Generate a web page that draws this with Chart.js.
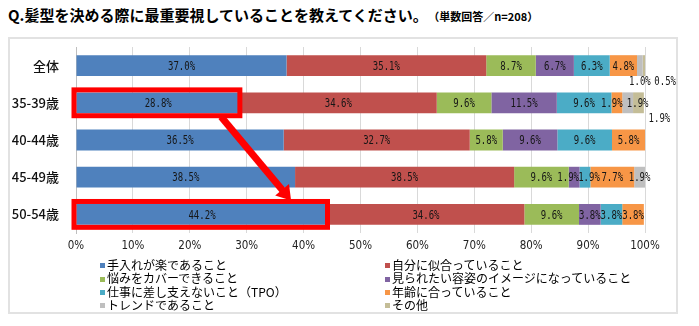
<!DOCTYPE html>
<html>
<head>
<meta charset="utf-8">
<script src="https://cdn.jsdelivr.net/npm/chart.js@4.4.0/dist/chart.umd.min.js"></script>
<style>
  body { margin:0; width:699px; height:326px; background:#fff; position:relative; overflow:hidden; font-family:"Noto Sans CJK JP", sans-serif; }
  #title { position:absolute; left:8px; top:4px; font-size:15px; font-weight:bold; white-space:nowrap; color:#000; }
  #title small { font-size:11px; margin-left:6px; }
  #frame { position:absolute; left:8px; top:37px; width:670px; height:277px; border:2px solid #e2e2e2; box-sizing:border-box; }
  #chart { position:absolute; left:0; top:0; }
  .item { position:absolute; font-size:12px; line-height:13px; white-space:nowrap; color:#000; }
  .item i { display:inline-block; width:5px; height:5px; margin-right:2px; vertical-align:middle; position:relative; top:-1px; }
</style>
</head>
<body>
<div id="title">Q.髪型を決める際に最重要視していることを教えてください。<small>（単数回答／n=208）</small></div>
<div id="frame"></div>
<canvas id="chart" width="699" height="326"></canvas>
<div id="legend"></div>
<script>
// rows
const categories = ['全体', '35-39歳', '40-44歳', '45-49歳', '50-54歳'];

// answers (%)
const seriesNames = [
  '手入れが楽であること',
  '自分に似合っていること',
  '悩みをカバーできること',
  '見られたい容姿のイメージになっていること',
  '仕事に差し支えないこと（TPO）',
  '年齢に合っていること',
  'トレンドであること',
  'その他'
];
const easyCare   = [37.0, 28.8, 36.5, 38.5, 44.2];
const suitsMe    = [35.1, 34.6, 32.7, 38.5, 34.6];
const coversFlaw = [8.7, 9.6, 5.8, 9.6, 9.6];
const imageWant  = [6.7, 11.5, 9.6, 1.9, 3.8];
const tpo        = [6.3, 9.6, 9.6, 1.9, 3.8];
const ageFit     = [4.8, 1.9, 5.8, 7.7, 3.8];
const trend      = [1.0, 1.9, 0, 1.9, 0];
const other      = [0.5, 1.9, 0, 0, 0];
const series = [easyCare, suitsMe, coversFlaw, imageWant, tpo, ageFit, trend, other];

const colors = ['#4F81BD', '#C0504D', '#9BBB59', '#8064A2', '#4BACC6', '#F79646', '#BFBFBF', '#C4BD97'];
const xTicks = [0, 10, 20, 30, 40, 50, 60, 70, 80, 90, 100];

// label nudges for thin segments: [row, series, dx, dy]
const labelShifts = [
  [0, 6, 0, 15.5], [0, 7, 21, 15.5], [1, 7, 21, 15.5],
  [1, 5, -5, 0], [1, 6, 10, 0],
  [3, 3, -6, 0], [3, 4, 4, 0]
];
const highlightRows = [1, 4];

const valueLabels = {
  id: 'valueLabels',
  afterDatasetsDraw(chart) {
    const ctx = chart.ctx;
    ctx.save();
    ctx.font = '12px "DejaVu Sans Mono"';
    ctx.fillStyle = '#161616';
    ctx.textAlign = 'center';
    ctx.textBaseline = 'middle';
    chart.data.datasets.forEach((ds, di) => {
      chart.getDatasetMeta(di).data.forEach((bar, ri) => {
        const v = ds.data[ri];
        if (!v) return;
        let x = (bar.base + bar.x) / 2, y = bar.y + 1;
        const s = labelShifts.find(l => l[0] === ri && l[1] === di);
        if (s) { x += s[2]; y += s[3]; }
        ctx.save();
        ctx.translate(x, y);
        ctx.scale(0.75, 1);
        ctx.fillText(v.toFixed(1) + '%', 0, 0);
        ctx.restore();
      });
    });
    ctx.restore();
  }
};

const highlight = {
  id: 'highlight',
  afterDraw(chart) {
    const ctx = chart.ctx;
    const meta = chart.getDatasetMeta(0);
    const xs = chart.scales.x;
    ctx.save();
    ctx.strokeStyle = '#ff0000';
    ctx.fillStyle = '#ff0000';
    ctx.lineWidth = 5;
    const boxes = highlightRows.map(ri => {
      const b = meta.data[ri];
      const top = b.y - b.height / 2 - 2.5, bottom = b.y + b.height / 2 + 2.5;
      ctx.strokeRect(b.base - 2.5, top, b.x - b.base + 2.5, bottom - top);
      return { top, bottom };
    });
    // arrow between the two boxes
    const x0 = xs.getPixelForValue(25.5), y0 = boxes[0].bottom + 1;
    const x1 = xs.getPixelForValue(37.8), y1 = boxes[1].top - 1;
    const dx = x1 - x0, dy = y1 - y0, len = Math.hypot(dx, dy);
    const ux = dx / len, uy = dy / len, px = -uy, py = ux;
    const hl = 14, hw = 9;
    const bx = x1 - ux * hl, by = y1 - uy * hl;
    ctx.lineWidth = 7;
    ctx.beginPath();
    ctx.moveTo(x0, y0);
    ctx.lineTo(bx + ux * 2, by + uy * 2);
    ctx.stroke();
    ctx.beginPath();
    ctx.moveTo(x1, y1);
    ctx.lineTo(bx + px * hw, by + py * hw);
    ctx.lineTo(bx - px * hw, by - py * hw);
    ctx.closePath();
    ctx.fill();
    ctx.restore();
  }
};

new Chart(document.getElementById('chart').getContext('2d'), {
  type: 'bar',
  data: {
    labels: categories,
    datasets: series.map((s, i) => ({
      label: seriesNames[i],
      data: s,
      backgroundColor: colors[i],
      barPercentage: 0.56,
      categoryPercentage: 1
    }))
  },
  options: {
    indexAxis: 'y',
    responsive: false,
    animation: false,
    layout: { padding: { top: 47, right: 54, bottom: 72, left: 0 } },
    plugins: { legend: { display: false }, tooltip: { enabled: false } },
    scales: {
      x: {
        stacked: true, min: 0, max: 100,
        afterBuildTicks(s) { s.ticks = xTicks.map(v => ({ value: v })); },
        afterFit(s) { s.height = 21; },
        ticks: {
          callback: v => v + '%',
          font: { family: '"DejaVu Sans Condensed", "Liberation Sans Narrow", sans-serif', size: 11.5 },
          color: '#222', padding: 6, maxRotation: 0
        },
        grid: { color: '#d9d9d9', drawTicks: false },
        border: { display: false }
      },
      y: {
        stacked: true,
        afterFit(s) { s.width = 76; },
        ticks: {
          font: { family: '"Noto Sans CJK JP", sans-serif', size: 13, weight: '500' },
          color: '#111', padding: 9
        },
        grid: { display: false },
        border: { color: '#bfbfbf' }
      }
    }
  },
  plugins: [valueLabels, highlight]
});

// legend in two columns
const legend = document.getElementById('legend');
seriesNames.forEach((name, i) => {
  const d = document.createElement('div');
  d.className = 'item';
  d.style.left = (i % 2 ? 385 : 100) + 'px';
  d.style.top = (258 + Math.floor(i / 2) * 13.3) + 'px';
  d.innerHTML = '<i style="background:' + colors[i] + '"></i>' + name;
  legend.appendChild(d);
});
</script>
</body>
</html>
